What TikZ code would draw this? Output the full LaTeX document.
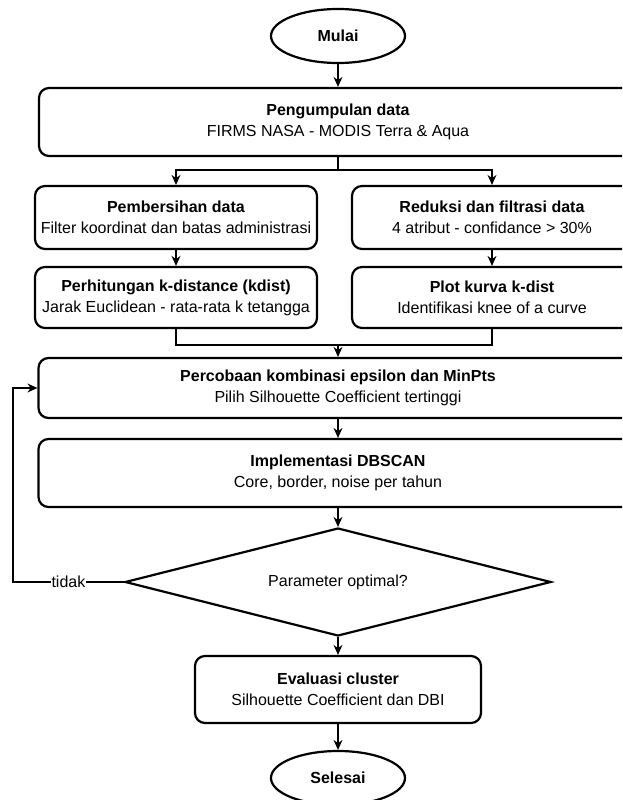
\documentclass[tikz,border=0pt]{standalone}
\usepackage{fontspec}
\setmainfont{Liberation Sans}
\usetikzlibrary{shapes.geometric,arrows.meta}
\begin{document}
\begin{tikzpicture}[x=1pt,y=-1pt,line width=1.2pt,>={Stealth[length=10pt,width=9pt]},
  every node/.style={draw,line width=2.2pt,align=center,inner sep=0pt,
    font=\fontsize{16}{21}\selectfont},
  proc/.style={rectangle,rounded corners=10pt},
  term/.style={ellipse,minimum width=134pt,minimum height=54pt},
  lbl/.style={draw=none,fill=white,inner sep=1pt}]
\useasboundingbox (0,0) rectangle (622,800);
\clip (0,0) rectangle (622,800);
\node[term] (mulai) at (338,36) {\textbf{Mulai}};
\node[proc,minimum width=598pt,minimum height=68pt] (kumpul) at (338,122)
  {\textbf{Pengumpulan data}\\FIRMS NASA - MODIS Terra \& Aqua};
\node[proc,minimum width=282pt,minimum height=63pt] (bersih) at (176,217.5)
  {\textbf{Pembersihan data}\\Filter koordinat dan batas administrasi};
\node[proc,minimum width=280pt,minimum height=63pt] (reduksi) at (492,217.5)
  {\textbf{Reduksi dan filtrasi data}\\4 atribut - confidance > 30\%};
\node[proc,minimum width=282pt,minimum height=61pt] (hitung) at (176,297.5)
  {\textbf{Perhitungan k-distance (kdist)}\\Jarak Euclidean - rata-rata k tetangga};
\node[proc,minimum width=280pt,minimum height=61pt] (kurva) at (492,297.5)
  {\textbf{Plot kurva k-dist}\\Identifikasi knee of a curve};
\node[proc,minimum width=599pt,minimum height=60pt] (coba) at (338,388)
  {\textbf{Percobaan kombinasi epsilon dan MinPts}\\Pilih Silhouette Coefficient tertinggi};
\node[proc,minimum width=599pt,minimum height=68pt] (dbscan) at (338,473)
  {\textbf{Implementasi DBSCAN}\\Core, border, noise per tahun};
\node[diamond,aspect=3.9,minimum width=426pt,minimum height=108pt] (optimal) at (338,582)
  {Parameter optimal?};
\node[proc,minimum width=286pt,minimum height=67pt] (evaluasi) at (338,689.5)
  {\textbf{Evaluasi cluster}\\Silhouette Coefficient dan DBI};
\node[term] (selesai) at (338,778) {\textbf{Selesai}};
\coordinate (cabang) at (338,170);
\coordinate (gabung) at (338,345);
\coordinate (ulang) at (13,582);
\draw[->] (mulai) -- (kumpul);
\draw (kumpul) -- (cabang);
\draw[->] (cabang) -| (bersih);
\draw[->] (cabang) -| (reduksi);
\draw[->] (bersih) -- (hitung);
\draw[->] (reduksi) -- (kurva);
\draw (hitung) |- (gabung);
\draw (kurva) |- (gabung);
\draw[->] (gabung) -- (coba);
\draw[->] (coba) -- (dbscan);
\draw[->] (dbscan) -- (optimal);
\draw[->] (optimal) -- node[lbl] {tidak} (ulang) |- (coba);
\draw[->] (optimal) -- (evaluasi);
\draw[->] (evaluasi) -- (selesai);
\end{tikzpicture}
\end{document}
